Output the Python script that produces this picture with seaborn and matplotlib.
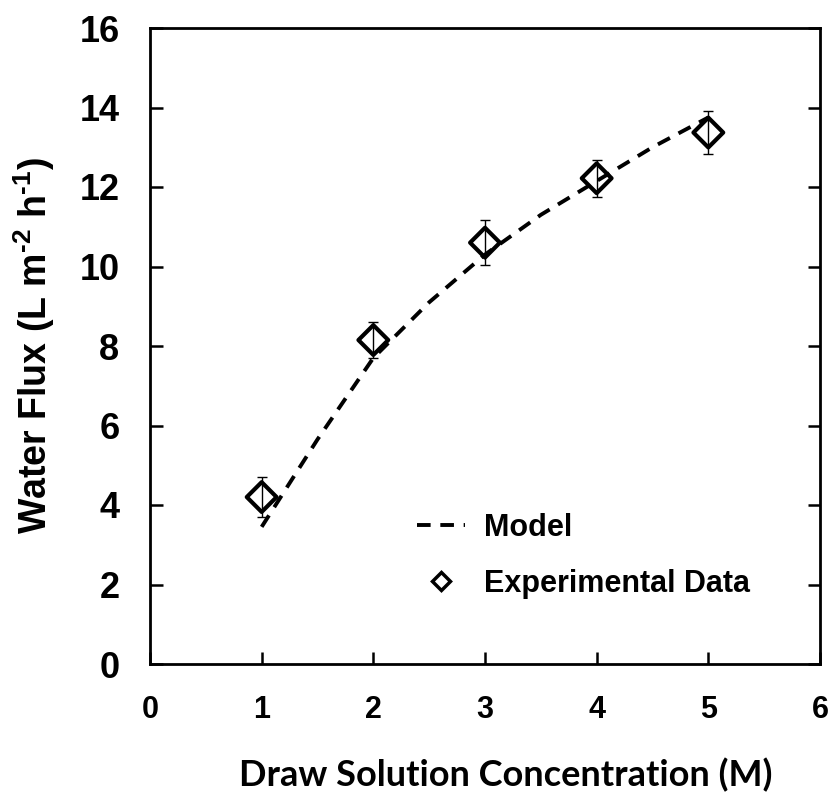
import numpy as np
import pandas as pd
import seaborn as sns
import matplotlib.pyplot as plt
from matplotlib.lines import Line2D

# data
conc = [1, 2, 3, 4, 5]
flux = [4.2, 8.15, 10.6, 12.22, 13.37]
flux_err = [0.5, 0.45, 0.57, 0.47, 0.54]

model_conc = [1, 1.5, 2, 2.5, 3, 3.5, 4, 4.5, 5]
model_flux = [3.45, 5.65, 7.7, 9.1, 10.3, 11.3, 12.15, 13.0, 13.75]

sns.set_style("ticks")
plt.rcParams['font.family'] = ['Liberation Sans', 'DejaVu Sans']
plt.rcParams['mathtext.fontset'] = 'custom'
plt.rcParams['mathtext.rm'] = 'Liberation Sans:bold'
plt.rcParams['mathtext.bf'] = 'Liberation Sans:bold'
for key in ['text.color', 'axes.labelcolor', 'xtick.color', 'ytick.color']:
    plt.rcParams[key] = 'black'

fig = plt.figure(figsize=(8.31, 7.92), dpi=100)
ax = fig.add_axes([150/831, 1-664/792, 670/831, 636/792])

model_df = pd.DataFrame({"conc": model_conc, "flux": model_flux})
exp_df = pd.DataFrame({"conc": conc, "flux": flux})

#%%
# model curve
sns.lineplot(data=model_df, x="conc", y="flux", ax=ax, color="black",
             lw=2.8, ls=(0, (3.5, 2.5)), legend=False)

# experimental points with error bars
ax.errorbar(conc, flux, yerr=flux_err, fmt="none", ecolor="black",
            elinewidth=1.0, capsize=3.5, capthick=1.0, zorder=3)
sns.scatterplot(data=exp_df, x="conc", y="flux", ax=ax, marker="D", s=230,
                facecolor="none", edgecolor="black", linewidth=3, zorder=4,
                legend=False)

#%%
ax.set_xlim(0, 6)
ax.set_ylim(0, 16)
ax.set_xticks(range(0, 7))
ax.set_yticks(range(0, 17, 2))
ax.tick_params(direction="in", length=9, width=1.8, top=False, right=True)
ax.tick_params(axis="x", labelsize=22, pad=22)
ax.tick_params(axis="y", labelsize=26, pad=22)
for lab in ax.get_xticklabels() + ax.get_yticklabels():
    lab.set_fontweight("bold")
for sp in ax.spines.values():
    sp.set_visible(True)
    sp.set_linewidth(2)
    sp.set_color("black")

ax.set_xlabel("Draw Solution Concentration (M)", fontsize=26, fontweight="bold",
              family=["Lato", "DejaVu Sans"], labelpad=24)
ax.xaxis.label.set_x(0.531)
ax.set_ylabel(r"Water Flux (L m$^{\text{-2}}$ h$^{\text{-1}}$)", fontsize=27,
              fontweight="bold", labelpad=16)

handles = [
    Line2D([], [], color="black", lw=2.8, ls=(0, (3.5, 2.5))),
    Line2D([], [], color="black", marker="D", ls="none", markersize=9,
           markerfacecolor="none", markeredgewidth=2.5),
]
ax.legend(handles, ["Model", "Experimental Data"], loc="upper left",
          bbox_to_anchor=(0.376, 0.262), frameon=False,
          prop={"weight": "bold", "size": 22}, handlelength=1.55,
          handletextpad=0.65, labelspacing=0.85, borderpad=0)

plt.savefig("out.png", dpi=100)
